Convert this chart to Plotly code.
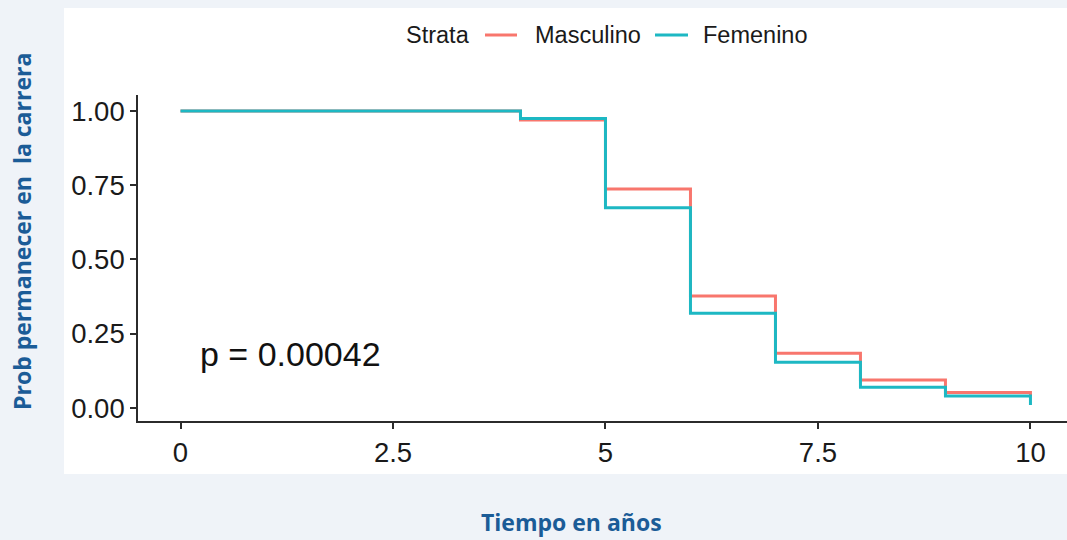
import plotly.graph_objects as go

# Kaplan-Meier survival estimates by sex (time in years)
tiempo = [0, 4, 5, 6, 7, 8, 9, 10]
masculino = [1.00, 0.970, 0.737, 0.377, 0.184, 0.094, 0.052, 0.040]
femenino = [1.00, 0.975, 0.674, 0.319, 0.154, 0.070, 0.040, 0.010]

x_ticks = [0, 2.5, 5, 7.5, 10]
x_tick_labels = ["0", "2.5", "5", "7.5", "10"]
y_ticks = [0, 0.25, 0.5, 0.75, 1.0]
y_tick_labels = ["0.00", "0.25", "0.50", "0.75", "1.00"]

p_label = "p = 0.00042"
strata = ["Masculino", "Femenino"]

RED = "#F8766D"
TEAL = "#1DB8C3"
AXIS = "#2b2b2b"
TEXT = "#1a1a1a"
TITLE_BLUE = "#1b5c97"
SANS = "Liberation Sans, Arial"
TITLE_FONT = "Open Sans, Lato"

W, H = 1067, 540
ML, MR, MT, MB = 138, 0, 95, 119
pw = W - ML - MR
ph = H - MT - MB


def px_x(px):
    return (px - ML) / pw


def px_y(py):
    return (H - MB - py) / ph


fig = go.Figure()

fig.add_trace(go.Scatter(
    x=tiempo, y=masculino, name=strata[0], mode="lines",
    line=dict(color=RED, width=3, shape="hv"),
))
fig.add_trace(go.Scatter(
    x=tiempo, y=femenino, name=strata[1], mode="lines",
    line=dict(color=TEAL, width=3, shape="hv"),
))

# white panel behind the plot
fig.add_shape(
    type="rect", xref="paper", yref="paper", layer="below",
    x0=px_x(64), x1=px_x(1070), y0=px_y(474), y1=px_y(8),
    fillcolor="white", line=dict(width=0),
)

# legend row: "Strata" followed by a line key for each group
LEG_Y = px_y(35)
fig.add_annotation(
    x=px_x(404), y=LEG_Y, xref="paper", yref="paper", text="Strata",
    showarrow=False, xanchor="left", yanchor="middle",
    font=dict(family=SANS, size=23.5, color=TEXT),
)
for (k0, k1, tx), name, col in zip(
    [(485, 517, 533), (655, 688, 701)], strata, [RED, TEAL]
):
    fig.add_shape(
        type="line", xref="paper", yref="paper",
        x0=px_x(k0), x1=px_x(k1), y0=LEG_Y, y1=LEG_Y,
        line=dict(color=col, width=3),
    )
    fig.add_annotation(
        x=px_x(tx), y=LEG_Y, xref="paper", yref="paper", text=name,
        showarrow=False, xanchor="left", yanchor="middle",
        font=dict(family=SANS, size=23.5, color=TEXT),
    )

fig.add_annotation(
    x=0.2, y=0.18, xref="x", yref="y", text=p_label, showarrow=False,
    xanchor="left", yanchor="middle",
    font=dict(family=SANS, size=34, color="#111111"),
)

fig.add_annotation(
    x=px_x(571), y=px_y(522), xref="paper", yref="paper",
    text="<b>Tiempo en años</b>", showarrow=False,
    xanchor="center", yanchor="middle",
    font=dict(family=TITLE_FONT, size=23, color=TITLE_BLUE),
)
fig.add_annotation(
    x=px_x(22), y=px_y(232), xref="paper", yref="paper",
    text="<b>Prob permanecer en&nbsp;&nbsp;la carrera</b>", showarrow=False,
    textangle=-90, xanchor="center", yanchor="middle",
    font=dict(family=TITLE_FONT, size=23, color=TITLE_BLUE),
)

axis_common = dict(
    showgrid=False, zeroline=False,
    showline=True, linecolor=AXIS, linewidth=1.6,
    ticks="outside", ticklen=6, tickcolor=AXIS, tickwidth=1.6,
    tickfont=dict(family=SANS, size=27.5, color=TEXT),
)

fig.update_layout(
    width=W, height=H,
    margin=dict(l=ML, r=MR, t=MT, b=MB),
    paper_bgcolor="#eff3f8",
    plot_bgcolor="white",
    showlegend=False,
    xaxis=dict(range=[-0.5, 10.43], tickvals=x_ticks, ticktext=x_tick_labels,
               **axis_common),
    yaxis=dict(range=[-0.044, 1.054], tickvals=y_ticks, ticktext=y_tick_labels,
               **axis_common),
    font=dict(family=SANS),
)

fig.write_html("out.html")
